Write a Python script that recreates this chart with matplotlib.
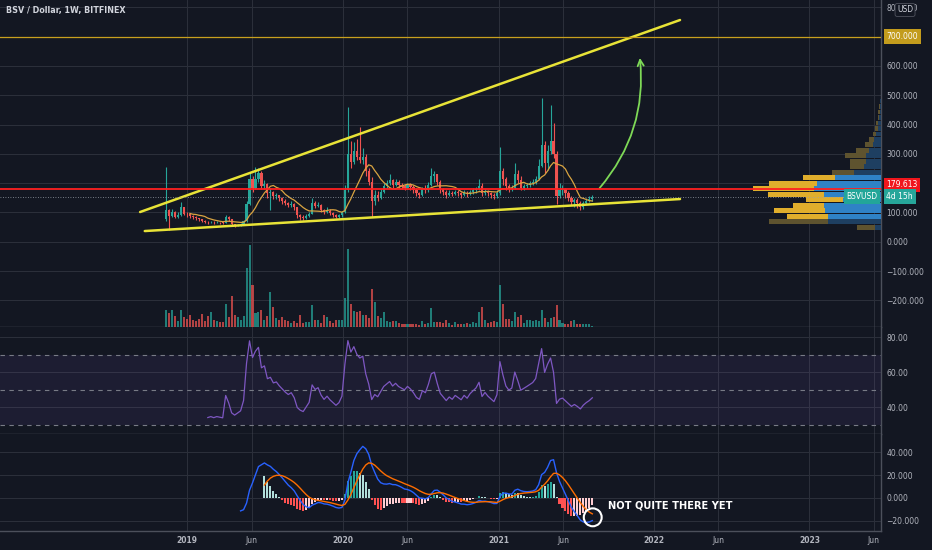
import numpy as np
import pandas as pd
import matplotlib
matplotlib.use("Agg")
import matplotlib.pyplot as plt
import matplotlib.dates as mdates
from matplotlib.patches import Ellipse, FancyArrowPatch
from matplotlib.ticker import FixedLocator, FuncFormatter

plt.rcParams['font.family'] = ['DejaVu Sans']

#%% data: BSV / Dollar weekly candles (Bitfinex), first week starts 2018-11-12
week_start = '2018-11-12'
first_open = 78
closes = [108, 88, 100, 86, 92, 118, 96, 93, 88, 84,
          80, 76, 72, 69, 67, 68, 66, 67, 66, 65,
          86, 76, 60, 56, 58, 60, 70, 130, 215, 185,
          215, 235, 190, 198, 165, 170, 155, 158, 148, 140,
          132, 126, 130, 118, 92, 84, 80, 88, 96, 132,
          122, 126, 110, 100, 106, 98, 92, 86, 90, 100,
          175, 300, 272, 310, 290, 280, 290, 240, 205, 140,
          160, 150, 170, 190, 200, 210, 195, 205, 195, 190,
          185, 195, 188, 178, 165, 160, 180, 175, 195, 225,
          230, 205, 180, 170, 160, 168, 162, 170, 165, 160,
          168, 162, 170, 175, 180, 190, 165, 172, 165, 160,
          155, 165, 240, 215, 190, 180, 185, 230, 210, 185,
          190, 195, 200, 205, 215, 260, 330, 270, 310, 345,
          300, 155, 175, 180, 165, 150, 135, 142, 132, 120,
          132, 140, 146, 154]
highs = [256, 112, 112, 104, 100, 137, 120, 100, 96, 92,
         88, 82, 78, 74, 72, 72, 70, 70, 69, 70,
         92, 88, 78, 62, 62, 64, 75, 140, 235, 225,
         256, 250, 240, 210, 200, 185, 172, 165, 160, 152,
         145, 136, 140, 132, 120, 95, 90, 94, 102, 148,
         140, 135, 128, 112, 118, 112, 100, 95, 96, 104,
         195, 461, 345, 340, 350, 390, 320, 300, 250, 220,
         175, 172, 180, 200, 210, 230, 215, 215, 210, 200,
         198, 202, 200, 192, 182, 170, 188, 192, 205, 250,
         240, 232, 210, 185, 175, 178, 172, 176, 175, 170,
         175, 172, 178, 182, 188, 215, 200, 180, 176, 170,
         166, 175, 325, 250, 222, 198, 195, 270, 245, 225,
         198, 202, 208, 215, 225, 282, 490, 345, 330, 465,
         405, 310, 200, 192, 185, 172, 155, 150, 148, 138,
         138, 148, 155, 160]
lows = [70, 40, 84, 80, 82, 88, 90, 86, 80, 78,
        74, 70, 66, 64, 62, 63, 62, 63, 62, 62,
        64, 72, 52, 50, 53, 55, 58, 68, 125, 170,
        180, 205, 180, 180, 150, 108, 145, 145, 138, 130,
        125, 118, 120, 110, 82, 75, 74, 78, 85, 95,
        115, 118, 100, 94, 98, 92, 86, 80, 82, 86,
        98, 170, 250, 265, 280, 270, 265, 225, 195, 85,
        125, 140, 145, 165, 185, 195, 185, 190, 185, 180,
        178, 180, 178, 168, 155, 150, 155, 168, 170, 190,
        205, 195, 165, 160, 150, 155, 155, 158, 155, 150,
        155, 152, 158, 162, 168, 175, 155, 158, 156, 150,
        146, 150, 160, 195, 175, 170, 172, 180, 200, 178,
        178, 182, 188, 192, 198, 210, 255, 235, 245, 300,
        285, 130, 150, 160, 150, 140, 125, 120, 115, 108,
        112, 128, 135, 140]
volumes = [50, 42, 52, 34, 17, 52, 30, 24, 35, 22,
           17, 24, 40, 17, 32, 44, 22, 17, 14, 14,
           69, 30, 92, 35, 30, 22, 34, 178, 247, 125,
           42, 46, 52, 22, 34, 106, 60, 26, 22, 30,
           20, 17, 12, 17, 12, 36, 12, 15, 16, 67,
           22, 22, 12, 36, 30, 17, 12, 20, 20, 22,
           87, 234, 70, 48, 44, 48, 35, 36, 28, 114,
           74, 34, 27, 46, 19, 14, 19, 18, 12, 10,
           9, 8, 8, 10, 10, 7, 18, 9, 12, 56,
           16, 16, 16, 12, 20, 12, 7, 16, 10, 10,
           10, 12, 10, 16, 12, 44, 60, 22, 12, 14,
           19, 14, 125, 68, 24, 24, 19, 46, 30, 36,
           12, 20, 20, 18, 20, 18, 52, 26, 16, 26,
           30, 66, 22, 12, 10, 10, 18, 20, 10, 8,
           10, 10, 8, 4]

# visible range volume profile, bottom row starts at 40 USD
vp_low = 40
vp_step = 18.75
vp_up = [54, 175, 123, 152, 95, 110, 168, 185, 145, 97,
         67, 43, 47, 63, 40, 23, 15, 10, 8, 6, 5, 4, 2, 1]
vp_down = [18, 160, 160, 168, 170, 115, 170, 200, 192, 137,
           80, 50, 45, 45, 35, 25, 20, 15, 10, 8, 5, 4, 3, 2]
vp_value_area = range(2, 10)

last_price = 154
red_level = 179.613
gold_level = 700

date_ticks = ['2019-01-01', '2019-06-01', '2020-01-01', '2020-06-01', '2021-01-01',
              '2021-06-01', '2022-01-01', '2022-06-01', '2023-01-01', '2023-06-01']
date_labels = ['2019', 'Jun', '2020', 'Jun', '2021', 'Jun', '2022', 'Jun', '2023', 'Jun']
price_ticks = list(range(-200, 900, 100))
rsi_ticks = [40, 60, 80]
macd_ticks = [-20, 0, 20, 40]

#%% colours
BG = '#131722'
GRID = '#2c303b'
SEP = '#4c505b'
TXT = '#b2b5be'
UP = '#26a69a'
DN = '#ef5350'

#%% indicators
c = np.array(closes, float)
o = np.array([first_open] + closes[:-1], float)
h = np.maximum(np.array(highs, float), np.maximum(o, c))
l = np.minimum(np.array(lows, float), np.minimum(o, c))
ma = pd.Series(c).rolling(9).mean().values


def rma(vals, n):
    out = np.full(len(vals), np.nan)
    out[n] = np.mean(vals[1:n + 1])
    for k in range(n + 1, len(vals)):
        out[k] = (out[k - 1] * (n - 1) + vals[k]) / n
    return out


def ema(vals, n):
    out = np.full(len(vals), np.nan)
    first = int(np.argmax(~np.isnan(vals)))
    out[first + n - 1] = np.mean(vals[first:first + n])
    a = 2.0 / (n + 1)
    for k in range(first + n, len(vals)):
        out[k] = a * vals[k] + (1 - a) * out[k - 1]
    return out


d = np.diff(c, prepend=np.nan)
gain = np.where(d > 0, d, 0.0)
loss = np.where(d < 0, -d, 0.0)
rsi = 100 - 100 / (1 + rma(gain, 14) / rma(loss, 14))

macd = ema(c, 12) - ema(c, 26)
signal = ema(macd, 9)
hist = macd - signal
hist_col = []
for k in range(len(hist)):
    prev = hist[k - 1] if k > 0 else np.nan
    if hist[k] >= 0:
        hist_col.append('#26a69a' if prev < hist[k] else '#b2dfdb')
    else:
        hist_col.append('#ffcdd2' if prev < hist[k] else '#ff5252')

#%% figure + panes
fig = plt.figure(figsize=(9.32, 5.5), dpi=100, facecolor=BG)
R = 881 / 932
ax_p = fig.add_axes([0, 1 - 327 / 550, R, 327 / 550])
ax_r = fig.add_axes([0, 1 - 434 / 550, R, 107 / 550], sharex=ax_p)
ax_m = fig.add_axes([0, 1 - 531 / 550, R, 97 / 550], sharex=ax_p)

# overlays on the price pane: volume and volume profile
ax_v = ax_p.twinx()
ax_vp = ax_p.twiny()

x = mdates.date2num(pd.date_range(week_start, periods=len(closes), freq='7D'))
xt = mdates.date2num(pd.to_datetime(date_ticks))

for ax in (ax_p, ax_r, ax_m):
    ax.set_facecolor(BG)
    for s in ('left', 'top'):
        ax.spines[s].set_visible(False)
    for s in ('right', 'bottom'):
        ax.spines[s].set_color(SEP)
        ax.spines[s].set_linewidth(1.0)
    ax.yaxis.tick_right()
    ax.tick_params(axis='y', which='both', left=False, labelleft=False,
                   right=True, labelright=True, length=0, pad=4,
                   labelsize=5.5, labelcolor=TXT)
    ax.tick_params(axis='x', length=0, pad=3.5, labelsize=5.5, labelcolor=TXT)
    ax.xaxis.set_major_locator(FixedLocator(xt))
    ax.grid(True, color=GRID, lw=0.7)
    ax.set_axisbelow(True)

ax_p.set_xlim(mdates.date2num(pd.Timestamp('2017-10-18')),
              mdates.date2num(pd.Timestamp('2023-06-18')))
ax_p.tick_params(axis='x', labelbottom=False)
ax_r.tick_params(axis='x', labelbottom=False)
ax_m.set_xticklabels(date_labels)
for t in ax_m.get_xticklabels():
    if t.get_text() != 'Jun':
        t.set_fontweight('bold')


def fmt(nd, hide=()):
    def f(v, pos):
        if any(abs(v - hh) < 1e-6 for hh in hide):
            return ''
        return f'{v:.{nd}f}'.replace('-', '\u2212')
    return FuncFormatter(f)


#%% price pane
ax_p.set_ylim(-291, 825)
ax_p.yaxis.set_major_locator(FixedLocator(price_ticks))
ax_p.yaxis.set_major_formatter(fmt(3, hide=(700, 200)))

col = np.where(c >= o, UP, DN)
ax_p.vlines(x, l, h, colors=col, lw=0.8, zorder=3)
ax_p.bar(x, np.maximum(np.abs(c - o), 2), bottom=np.minimum(o, c), width=5.0,
         color=col, linewidth=0, zorder=4)
ax_p.plot(x, ma, color='#d9a441', lw=0.9, zorder=5)

# trend lines drawn on the chart
tl = mdates.date2num(pd.to_datetime(['2018-09-23', '2022-03-03', '2018-09-12']))
ax_p.plot([tl[0], tl[1]], [36.5, 145.7], color='#e8e337', lw=1.8, zorder=6,
          solid_capstyle='round')
ax_p.plot([tl[2], tl[1]], [101.4, 756.7], color='#e8e337', lw=1.8, zorder=6,
          solid_capstyle='round')
arr = FancyArrowPatch((mdates.date2num(pd.Timestamp('2021-08-22')), 176),
                      (mdates.date2num(pd.Timestamp('2021-11-28')), 637),
                      connectionstyle='arc3,rad=0.22', arrowstyle='->',
                      mutation_scale=11, color='#7ed957', lw=1.3, zorder=7)
ax_p.add_patch(arr)

# volume overlay
ax_v.set_ylim(0, 981)
ax_v.axis('off')
ax_v.bar(x, volumes, width=4.8, color=col, alpha=0.72, linewidth=0)

# volume profile overlay (x in profile units, anchored at the price scale)
ax_vp.set_xlim(881 * 3, 0)
ax_vp.axis('off')
centers = vp_low + vp_step * (np.arange(len(vp_up)) + 0.5)
up_c = ['#e0ae2c' if k in vp_value_area else '#5e532f' for k in range(len(vp_up))]
dn_c = ['#2f82c6' if k in vp_value_area else '#1e3f61' for k in range(len(vp_up))]
ax_vp.barh(centers, vp_down, left=0, height=vp_step * 0.86, color=dn_c, linewidth=0)
ax_vp.barh(centers, vp_up, left=vp_down, height=vp_step * 0.86, color=up_c, linewidth=0)

ax_vp.axhline(gold_level, color='#c8a01e', lw=0.9, zorder=8)
ax_vp.axhline(red_level, color='#ff2020', lw=1.3, zorder=8)
ax_vp.axhline(last_price, color='#9aa0aa', lw=0.6, ls=(0, (1, 2)), zorder=8)

ytr = ax_vp.get_yaxis_transform()


def scale_label(y, text, fc, xpos=1.006, ha='left'):
    ax_vp.text(xpos, y, text, transform=ytr, ha=ha, va='center', fontsize=5.5,
               color='white', clip_on=False, zorder=20,
               bbox=dict(boxstyle='square,pad=0.35', fc=fc, ec='none'))


scale_label(gold_level, '700.000', '#c39c1d')
scale_label(194.5, '179.613', '#f0161c')
scale_label(last_price, '4d 15h', '#26a69a')
scale_label(last_price, 'BSVUSD', '#22a699', xpos=0.996, ha='right')

#%% RSI pane
ax_r.set_ylim(24.7, 85.9)
ax_r.yaxis.set_major_locator(FixedLocator(rsi_ticks))
ax_r.yaxis.set_major_formatter(fmt(2))
ax_r.axhspan(30, 70, color='#7e57c2', alpha=0.1, lw=0)
for lvl in (70, 50, 30):
    ax_r.axhline(lvl, color='#787b86', lw=0.8, ls=(0, (4, 4)))
ax_r.plot(x, rsi, color='#7e57c2', lw=0.9)

#%% MACD pane
ax_m.set_ylim(-29, 56)
ax_m.yaxis.set_major_locator(FixedLocator(macd_ticks))
ax_m.yaxis.set_major_formatter(fmt(3))
ax_m.bar(x, hist, width=4.8, color=hist_col, linewidth=0)
ax_m.plot(x, macd, color='#2962ff', lw=1.0)
ax_m.plot(x, signal, color='#ff6d00', lw=1.0)
ax_m.add_patch(Ellipse((mdates.date2num(pd.Timestamp('2021-08-10')), -17), 42, 15.7,
                       fill=False, ec='white', lw=1.5, zorder=9))
ax_m.text(mdates.date2num(pd.Timestamp('2021-09-15')), -6.3, 'NOT QUITE THERE YET',
          color='white', fontsize=7.1, fontweight='bold', va='center', ha='left')

#%% header texts
fig.text(6 / 932, 1 - 11 / 550, 'BSV / Dollar, 1W, BITFINEX', color='#d1d4dc',
         fontsize=5.8, fontweight='bold', va='center', ha='left')
fig.text(897 / 932, 1 - 10 / 550, 'USD', color='#d1d4dc', fontsize=5.5,
         va='center', ha='left', zorder=20,
         bbox=dict(boxstyle='round,pad=0.25', fc=BG, ec='#50535e', lw=0.6))

fig.savefig('out.png', dpi=100, facecolor=BG)
